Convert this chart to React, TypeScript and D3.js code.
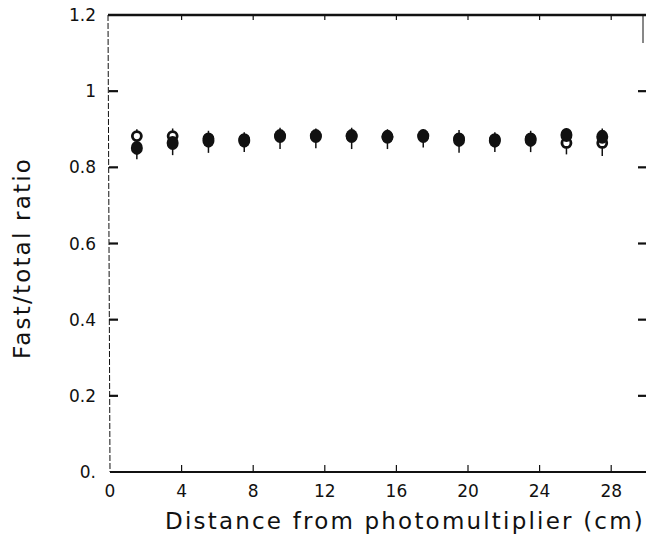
import React from "react";
import * as d3 from "d3";

const positions = [1.5, 3.5, 5.5, 7.5, 9.5, 11.5, 13.5, 15.5, 17.5, 19.5, 21.5, 23.5, 25.5, 27.5];
const openValues = [0.882, 0.882, 0.876, 0.874, 0.882, 0.882, 0.882, 0.880, 0.882, 0.876, 0.874, 0.876, 0.864, 0.864];
const filledValues = [0.851, 0.864, 0.870, 0.870, 0.882, 0.882, 0.882, 0.880, 0.882, 0.872, 0.870, 0.872, 0.885, 0.880];
const errors = [0.03, 0.032, 0.032, 0.03, 0.034, 0.032, 0.034, 0.032, 0.03, 0.034, 0.03, 0.032, 0.03, 0.034];
const xTicks = [0, 4, 8, 12, 16, 20, 24, 28];
const yTicks = [0, 0.2, 0.4, 0.6, 0.8, 1.0, 1.2];
const yTickLabels = ["0.", "0.2", "0.4", "0.6", "0.8", "1", "1.2"];

export default function App() {
  const W = 646, H = 536;
  const x = d3.scaleLinear().domain([0, 30]).range([110, 647]);
  const y = d3.scaleLinear().domain([0, 1.2]).range([472, 15]);
  const font = "'DejaVu Sans', sans-serif";
  const ink = "#111";
  return (
    <svg width={W} height={H} style={{ position: "absolute", left: 0, top: 0, background: "#fff" }}>
      {/* frame */}
      <line x1={x(0) - 2} x2={W} y1={y(1.2)} y2={y(1.2)} stroke={ink} strokeWidth={2.5} />
      <line x1={x(0)} x2={W} y1={y(0)} y2={y(0)} stroke={ink} strokeWidth={2} />
      <line x1={x(0) - 2} x2={x(0)} y1={y(1.2)} y2={y(0)} stroke={ink} strokeWidth={1} strokeDasharray="6,2" />
      <line x1={643} x2={643} y1={y(1.2)} y2={y(1.2) + 28} stroke={ink} strokeWidth={1} />
      {/* x ticks */}
      {xTicks.map((t) => (
        <g key={"xt" + t}>
          {t > 0 && <line x1={x(t)} x2={x(t)} y1={y(0)} y2={y(0) - 7} stroke={ink} strokeWidth={1.2} />}
          {t > 0 && <line x1={x(t)} x2={x(t)} y1={y(1.2)} y2={y(1.2) + 5} stroke={ink} strokeWidth={1.2} />}
          <text x={x(t)} y={497} textAnchor="middle" fontFamily={font} fontSize={17} fill={ink}>{t}</text>
        </g>
      ))}
      {/* y ticks */}
      {yTicks.map((t, i) => (
        <g key={"yt" + t}>
          {t > 0 && t < 1.2 && <line x1={x(0) - 1} x2={x(0) + 8} y1={y(t)} y2={y(t)} stroke={ink} strokeWidth={2.2} />}
          {t > 0 && t < 1.2 && <line x1={638} x2={646} y1={y(t)} y2={y(t)} stroke={ink} strokeWidth={2.2} />}
          <text x={96} y={y(t) + 6} textAnchor="end" fontFamily={font} fontSize={17} fill={ink}>{yTickLabels[i]}</text>
        </g>
      ))}
      {/* error bars */}
      {positions.map((p, i) => {
        const lo = Math.min(openValues[i], filledValues[i]) - errors[i];
        const hi = Math.max(openValues[i], filledValues[i]) + errors[i] - 0.012;
        return <line key={"e" + i} x1={x(p)} x2={x(p)} y1={y(hi)} y2={y(lo)} stroke={ink} strokeWidth={1.5} />;
      })}
      {/* open */}
      {positions.map((p, i) => (
        <circle key={"o" + i} cx={x(p)} cy={y(openValues[i])} r={4.5} fill="#fff" stroke={ink} strokeWidth={2.8} />
      ))}
      {/* filled */}
      {positions.map((p, i) => (
        <ellipse key={"f" + i} cx={x(p)} cy={y(filledValues[i])} rx={6} ry={7} fill={ink} />
      ))}
      {/* axis titles */}
      <text x={405} y={529} textAnchor="middle" fontFamily={font} fontSize={23} fill={ink} letterSpacing={2.2}>Distance from photomultiplier (cm)</text>
      <text transform={`translate(30,${258}) rotate(-90)`} textAnchor="middle" fontFamily={font} fontSize={23} fill={ink} letterSpacing={2.2}>Fast/total ratio</text>
    </svg>
  );
}
